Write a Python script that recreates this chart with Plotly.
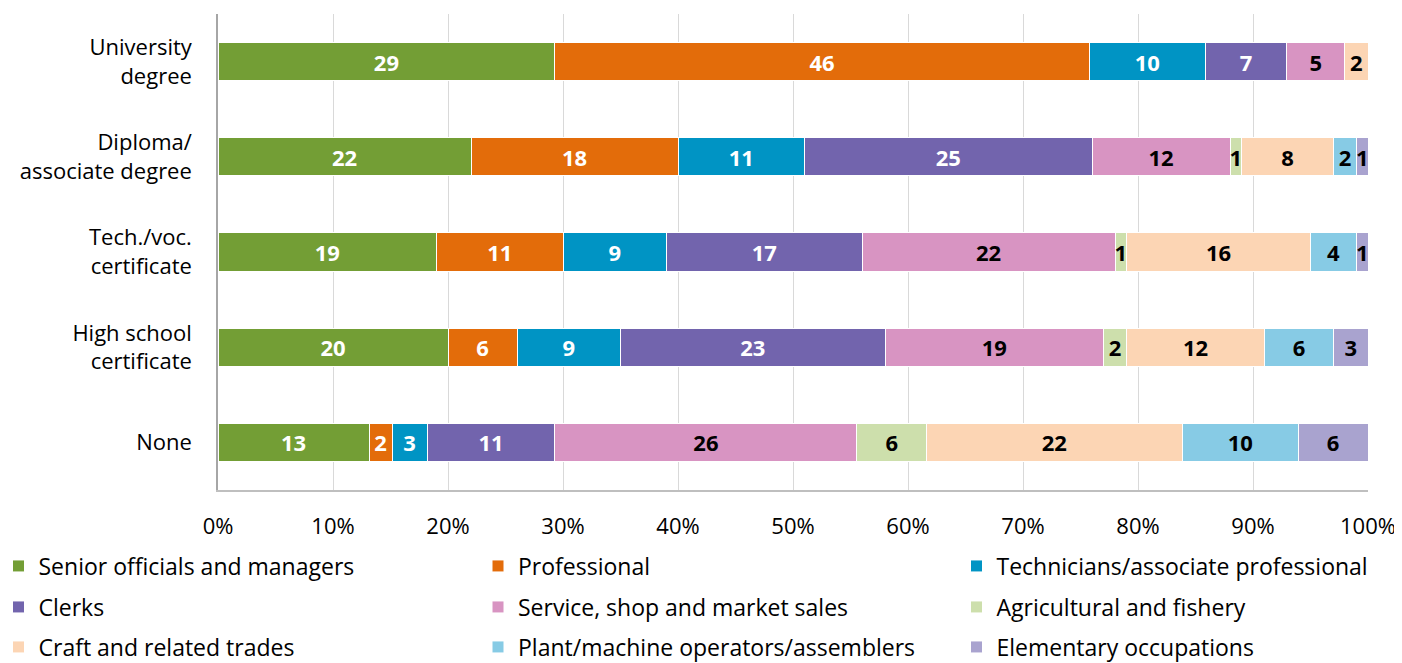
import plotly.graph_objects as go

categories = ["University<br>degree", "Diploma/<br>associate degree", "Tech./voc.<br>certificate",
              "High school<br>certificate", "None"]

series_names = ["Senior officials and managers", "Professional", "Technicians/associate professional",
                "Clerks", "Service, shop and market sales", "Agricultural and fishery",
                "Craft and related trades", "Plant/machine operators/assemblers", "Elementary occupations"]

senior = [29, 22, 19, 20, 13]
professional = [46, 18, 11, 6, 2]
technicians = [10, 11, 9, 9, 3]
clerks = [7, 25, 17, 23, 11]
service = [5, 12, 22, 19, 26]
agricultural = [0, 1, 1, 2, 6]
craft = [2, 8, 16, 12, 22]
plant = [0, 2, 4, 6, 10]
elementary = [0, 1, 1, 3, 6]

series_values = [senior, professional, technicians, clerks, service, agricultural, craft, plant, elementary]
colors = ["#739E35", "#E36C0A", "#0094C4", "#7264AD", "#D894C2", "#CDDFAC", "#FCD5B4", "#87CBE5", "#A9A3CF"]
text_colors = ["white", "white", "white", "white", "black", "black", "black", "black", "black"]

FONT = "Open Sans, sans-serif"
TICK_SIZE = 22
LEGEND_SIZE = 23
LABEL_SIZE = 22

# The page places the figure 8px from the top-left corner (body margin);
# build the figure 8px smaller and express positions in page pixels.
OFF = 8
W, H = 1402 - OFF, 663 - OFF

def fx(page_x):
    return page_x - OFF

def fy(page_y):
    return page_y - OFF

plot_left, plot_right, plot_top, plot_bottom = fx(218), fx(1368), fy(14), fy(490)
ml, mr, mt, mb = plot_left, W - plot_right, plot_top, H - plot_bottom
pw = W - ml - mr
ph = H - mt - mb

def lx(page_x):
    return (fx(page_x) - ml) / pw

def ly(page_y):
    return (H - mb - fy(page_y)) / ph

legend_cols_page = [-1.5, 478, 956.5]
legend_rows_page = [566, 607, 647]

fig = go.Figure()
layout_legends = {}
for i, (name, vals, col, tc) in enumerate(zip(series_names, series_values, colors, text_colors)):
    key = "legend" if i == 0 else f"legend{i + 1}"
    fig.add_trace(go.Bar(
        y=categories, x=vals, name=name, orientation="h",
        marker=dict(color=col, line=dict(color="white", width=1)),
        text=[str(v) if v > 0 else "" for v in vals],
        texttemplate="%{text}", textposition="inside", insidetextanchor="middle",
        textangle=0, constraintext="none",
        insidetextfont=dict(color=tc, size=LABEL_SIZE, family=FONT, weight="bold"),
        legend=key, showlegend=True, hoverinfo="skip",
    ))
    layout_legends[key] = dict(
        orientation="h", xanchor="left", yanchor="middle",
        x=lx(legend_cols_page[i % 3]), y=ly(legend_rows_page[i // 3]),
        font=dict(family=FONT, size=LEGEND_SIZE, color="#000000"),
        bgcolor="rgba(0,0,0,0)",
    )

fig.update_layout(
    width=W, height=H, showlegend=True,
    margin=dict(l=ml, r=mr, t=mt, b=mb, autoexpand=False),
    barmode="stack", barnorm="percent", bargap=0.6,
    plot_bgcolor="white", paper_bgcolor="white",
    font=dict(family=FONT, size=TICK_SIZE, color="#000000"),
    uniformtext=dict(minsize=LABEL_SIZE, mode="show"),
    xaxis=dict(range=[0, 100], dtick=10, ticksuffix="%", showgrid=True, gridcolor="#D9D9D9",
               gridwidth=1, showline=True, linecolor="#BFBFBF", linewidth=1.5, zeroline=False,
               ticks="", ticklabelstandoff=16, tickfont=dict(size=TICK_SIZE), automargin=False),
    yaxis=dict(autorange="reversed", showline=True, linecolor="#A6A6A6", linewidth=1.5,
               ticks="", ticklabelstandoff=20, tickfont=dict(size=TICK_SIZE), automargin=False),
    **layout_legends,
)

fig.write_html("out.html")
